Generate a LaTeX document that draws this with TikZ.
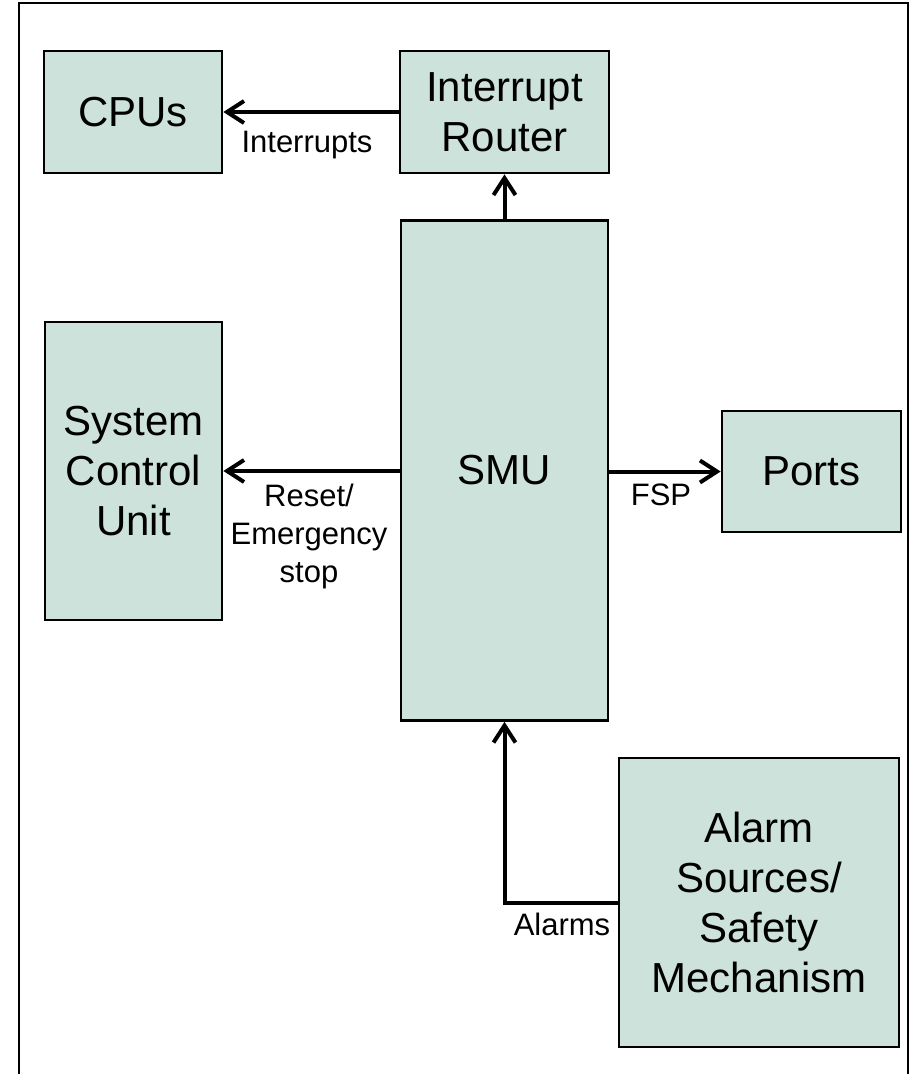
\documentclass[tikz,border=0pt]{standalone}
\usepackage{fontspec}
\setmainfont{Liberation Sans}
\usetikzlibrary{arrows.meta}
\definecolor{boxfill}{RGB}{205,226,219}
\tikzset{
	block/.style={draw=black, line width=2.7pt, fill=boxfill, inner sep=0pt, align=center, font=\fontsize{42}{50}\selectfont},
	link/.style={line width=4pt, -{Straight Barb[length=17pt, width=22pt]}},
	tag/.style={inner sep=0pt, align=center, font=\fontsize{31}{38}\selectfont}
}

\begin{document}
\begin{tikzpicture}[x=1pt, y=-1pt]
			%%%%% START %%%%%
			\useasboundingbox (0, 0) rectangle (912, 1074);
			
			\draw[line width=2pt] (18.5, 1074) -- (18.5, 3) -- (908, 3) -- (908, 1074);
			
			\node[block, minimum width=178pt, minimum height=122pt] (cpu) at (133, 112) {CPUs};
			\node[block, minimum width=209pt, minimum height=122pt] (ir) at (504.5, 112) {Interrupt\\Router};
			\node[block, minimum width=207pt, minimum height=500pt] (smu) at (504.5, 470.5) {SMU};
			\node[block, minimum width=177pt, minimum height=298pt] (scu) at (133.5, 471) {System\\Control\\Unit};
			\node[block, minimum width=179pt, minimum height=121pt] (ports) at (811.5, 471.5) {Ports};
			\node[block, minimum width=280pt, minimum height=289pt] (alarm) at (759, 902.5) {Alarm\\Sources/\\Safety\\Mechanism};
			
			\draw[link] (ir.west) -- (cpu.east);
			\node[tag] (intlabel) at (307, 145) {Interrupts};
			
			\draw[link] (smu.north) -- (ir.south);
			
			\draw[link] (scu.east -| smu.west) -- (scu.east);
			\node[tag] (resetlabel) at (309, 536) {Reset/\\Emergency\\stop};
			
			\draw[link] (ports.west -| smu.east) -- (ports.west);
			\node[tag] (fsplabel) at (661, 495) {FSP};
			
			\draw[link] (alarm.west) -| (smu.south);
			\node[tag] (alarmlabel) at (562, 924) {Alarms};
			
			%%%%% END %%%%%
\end{tikzpicture}
\end{document}
